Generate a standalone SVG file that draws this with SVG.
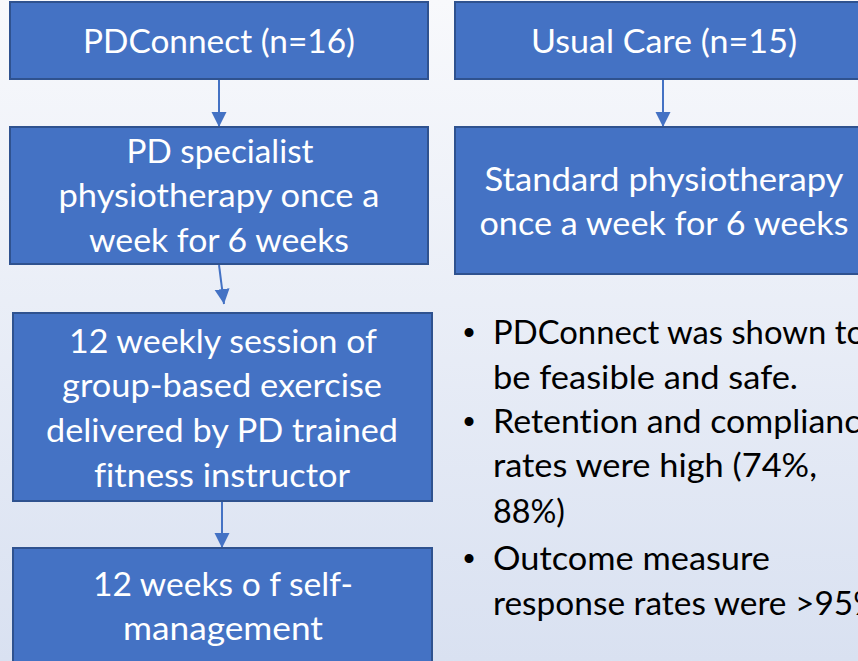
<svg xmlns="http://www.w3.org/2000/svg" width="858" height="661" viewBox="0 0 858 661">
  <defs>
    <linearGradient id="bg" x1="0" y1="0" x2="0" y2="1">
      <stop offset="0" stop-color="#F8F9FC"/>
      <stop offset="1" stop-color="#D9E1F1"/>
    </linearGradient>
    <marker id="arrow" markerUnits="userSpaceOnUse" markerWidth="16" markerHeight="16" viewBox="0 0 16 16" refX="15" refY="8" orient="auto">
      <path d="M0,0.5 L15,8 L0,15.5 Z" fill="#4472C4"/>
    </marker>
    <style>
      .box { fill: #4472C4; stroke: #2F528F; stroke-width: 2; }
      .lbl { font-family: Lato, "Open Sans", "Noto Sans", sans-serif; font-size: 33px; fill: #FFFFFF; text-anchor: middle; font-variant-ligatures: none; }
      .note { font-family: Lato, "Open Sans", "Noto Sans", sans-serif; font-size: 33px; fill: #000000; font-variant-ligatures: none; }
      .dot { font-family: "Liberation Sans", sans-serif; font-size: 33px; fill: #000000; text-anchor: middle; }
      .link { stroke: #4472C4; stroke-width: 2; fill: none; marker-end: url(#arrow); }
    </style>
  </defs>

  <rect x="0" y="0" width="858" height="661" fill="url(#bg)"/>

  <!-- connectors -->
  <g id="connectors">
    <line class="link" x1="219" y1="79" x2="219" y2="127"/>
    <line class="link" x1="663" y1="79" x2="663" y2="127"/>
    <line class="link" x1="219" y1="265" x2="224" y2="304"/>
    <line class="link" x1="222" y1="502" x2="222" y2="548"/>
  </g>

  <!-- intervention arm -->
  <g id="pdconnect">
    <rect class="box" x="10" y="2" width="418" height="77"/>
    <text class="lbl" x="219" y="53" textLength="272" lengthAdjust="spacingAndGlyphs">PDConnect (n=16)</text>
  </g>

  <g id="specialist-physio">
    <rect class="box" x="10" y="127" width="418" height="137"/>
    <text class="lbl" x="220" y="163" textLength="187" lengthAdjust="spacingAndGlyphs">PD specialist</text>
    <text class="lbl" x="219" y="207" textLength="321" lengthAdjust="spacingAndGlyphs">physiotherapy once a</text>
    <text class="lbl" x="219" y="252" textLength="260" lengthAdjust="spacingAndGlyphs">week for 6 weeks</text>
  </g>

  <g id="group-exercise">
    <rect class="box" x="13" y="313" width="419" height="188"/>
    <text class="lbl" x="223" y="353" textLength="308" lengthAdjust="spacingAndGlyphs">12 weekly session of</text>
    <text class="lbl" x="222" y="397" textLength="320" lengthAdjust="spacingAndGlyphs">group-based exercise</text>
    <text class="lbl" x="222" y="442" textLength="352" lengthAdjust="spacingAndGlyphs">delivered by PD trained</text>
    <text class="lbl" x="222" y="487" textLength="256" lengthAdjust="spacingAndGlyphs">fitness instructor</text>
  </g>

  <g id="self-management">
    <rect class="box" x="13" y="548" width="419" height="130"/>
    <text class="lbl" x="223" y="596" textLength="260" lengthAdjust="spacingAndGlyphs">12 weeks o f self-</text>
    <text class="lbl" x="223" y="640" textLength="200" lengthAdjust="spacingAndGlyphs">management</text>
  </g>

  <!-- control arm -->
  <g id="usual-care">
    <rect class="box" x="455" y="2" width="420" height="77"/>
    <text class="lbl" x="664" y="53" textLength="266" lengthAdjust="spacingAndGlyphs">Usual Care (n=15)</text>
  </g>

  <g id="standard-physio">
    <rect class="box" x="455" y="127" width="420" height="147"/>
    <text class="lbl" x="664" y="191" textLength="359" lengthAdjust="spacingAndGlyphs">Standard physiotherapy</text>
    <text class="lbl" x="664" y="235" textLength="369" lengthAdjust="spacingAndGlyphs">once a week for 6 weeks</text>
  </g>

  <!-- findings (lines run past the right edge of the canvas) -->
  <g id="findings">
    <text class="dot" x="469" y="344">•</text>
    <text class="note" x="493" y="344" textLength="372" lengthAdjust="spacingAndGlyphs">PDConnect was shown to</text>
    <text class="note" x="493" y="389" textLength="305" lengthAdjust="spacingAndGlyphs">be feasible and safe.</text>
    <text class="dot" x="469" y="433">•</text>
    <text class="note" x="493" y="433" textLength="385" lengthAdjust="spacingAndGlyphs">Retention and compliance</text>
    <text class="note" x="493" y="477" textLength="324" lengthAdjust="spacingAndGlyphs">rates were high (74%,</text>
    <text class="note" x="493" y="523" textLength="72" lengthAdjust="spacingAndGlyphs">88%)</text>
    <text class="dot" x="469" y="570">•</text>
    <text class="note" x="493" y="570" textLength="277" lengthAdjust="spacingAndGlyphs">Outcome measure</text>
    <text class="note" x="493" y="615" textLength="387" lengthAdjust="spacingAndGlyphs">response rates were &gt;95%</text>
  </g>
</svg>
